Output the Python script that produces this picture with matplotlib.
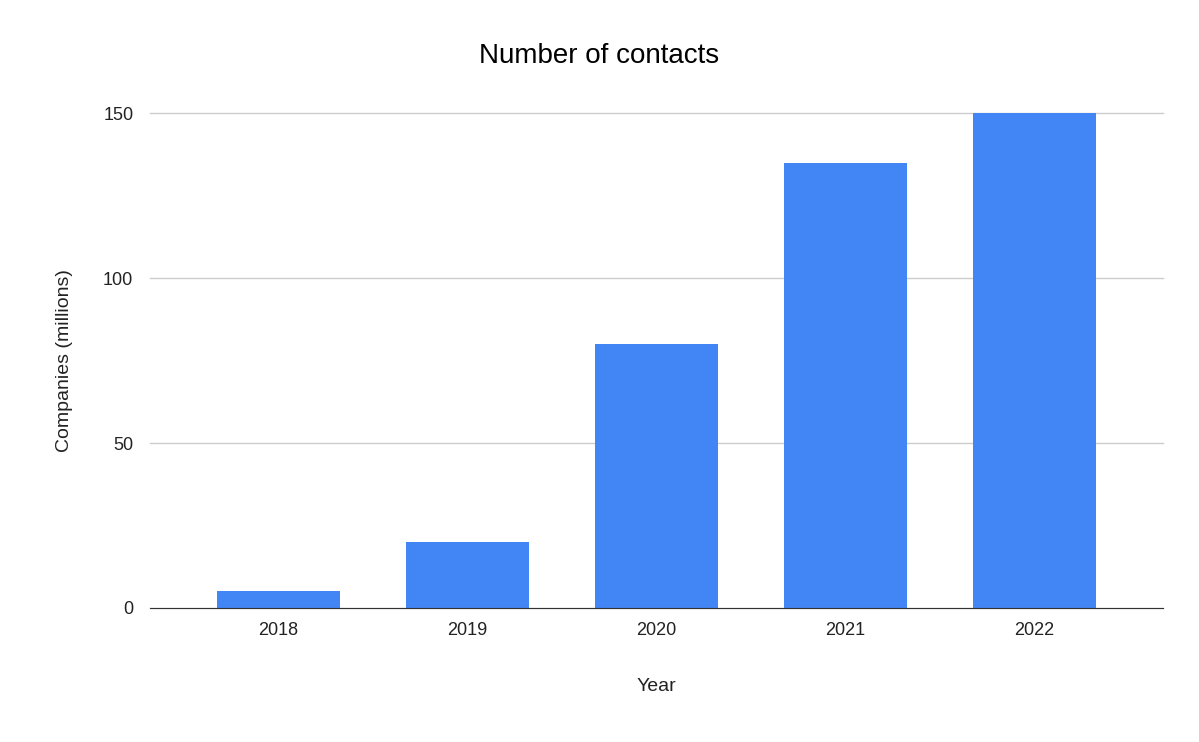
import matplotlib
matplotlib.use("Agg")
import matplotlib.pyplot as plt

years = ["2018", "2019", "2020", "2021", "2022"]
companies = [5, 20, 80, 135, 150]
yticks = [0, 50, 100, 150]

plt.rcParams["font.family"] = "Liberation Sans"
fig = plt.figure(figsize=(11.99, 7.42), dpi=100)
ax = fig.add_axes([0.1251, 0.1806, 0.845, 0.667])
x = range(len(years))
ax.bar(x, companies, width=0.65, color="#4285F4", zorder=3)
ax.set_xlim(-0.68, 4.68)
ax.set_ylim(0, 150)
ax.set_xticks(list(x))
ax.set_xticklabels(years, fontsize=13)
ax.set_yticks(yticks)
ax.set_yticklabels([str(v) for v in yticks], fontsize=13)
ax.grid(axis="y", color="#cccccc", linewidth=1, zorder=0)
for gl in ax.get_ygridlines():
    gl.set_clip_on(False)
for s in ["top", "right", "left"]:
    ax.spines[s].set_visible(False)
ax.spines["bottom"].set_color("#333333")
ax.spines["bottom"].set_zorder(4)
ax.tick_params(axis="both", length=0, pad=10, colors="#222222")
ax.tick_params(axis="y", pad=12)
ax.set_xlabel("Year", fontsize=14, labelpad=28, color="#222222")
ax.set_ylabel("Companies (millions)", fontsize=14, labelpad=22, color="#222222")
fig.text(0.5, 0.925, "Number of contacts", ha="center", va="center", fontsize=20, color="#000000")
fig.savefig("out.png", dpi=100, facecolor="white")
